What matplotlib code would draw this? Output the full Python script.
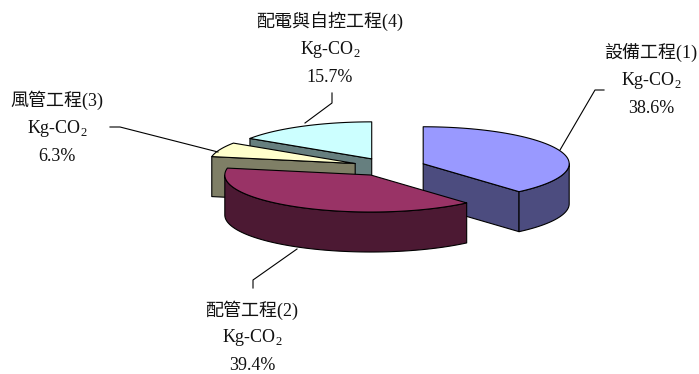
import numpy as np
import matplotlib

matplotlib.use("Agg")
import matplotlib.pyplot as plt
from matplotlib.patches import Polygon

plt.rcParams["font.family"] = ["Liberation Serif", "Noto Sans CJK TC"]

# carbon share per work item (Kg-CO2, percent of total)
categories = ["設備工程(1)", "配管工程(2)", "風管工程(3)", "配電與自控工程(4)"]
shares = [38.6, 39.4, 6.3, 15.7]
unit = "Kg-CO$_\\mathregular{2}$"

top_colors = ["#9999FF", "#993366", "#FFFFCC", "#CCFFFF"]
side_colors = ["#4C4C7F", "#4C1933", "#7F7F66", "#667F7F"]

# pie geometry in pixel space (y grows downward)
CX, CY = 389, 167
RX, RY = 146, 37
DEPTH = 40
EXPLODE = 0.25

# label anchor (x, first-line y) and leader polyline per slice
label_pos = [(651, 52), (252, 310), (57, 100), (330, 21)]
leaders = [
    [(560, 150), (595, 90), (604, 90)],
    [(297, 249), (253, 280), (253, 288)],
    [(110, 127), (120, 127), (218, 152)],
    [(305, 123), (332, 103), (332, 93)],
]
LINE_GAP = 28


def ellipse_pts(cx, cy, angles, dy=0.0):
    rad = np.radians(angles)
    return np.column_stack([cx + RX * np.cos(rad), cy - RY * np.sin(rad) + dy])


def draw_slice(ax, a, b, cx, cy, top, side):
    edge = dict(edgecolor="black", linewidth=0.8, joinstyle="round")
    apex = np.array([cx, cy])
    down = np.array([0, DEPTH])

    # radial walls that face the viewer
    for ang, visible in ((a, np.cos(np.radians(a)) > 1e-6), (b, np.cos(np.radians(b)) < -1e-6)):
        if not visible:
            continue
        rim = ellipse_pts(cx, cy, [ang])[0]
        ax.add_patch(Polygon([apex, rim, rim + down, apex + down], closed=True,
                             facecolor=side, **edge))

    # front part of the outer wall (sin < 0)
    lo, hi = a, b
    for k in range(-1, 2):
        f_lo, f_hi = max(lo, 180 + 360 * k), min(hi, 360 + 360 * k)
        if f_hi - f_lo > 0.01:
            angs = np.linspace(f_lo, f_hi, 80)
            upper = ellipse_pts(cx, cy, angs)
            lower = ellipse_pts(cx, cy, angs[::-1], DEPTH)
            ax.add_patch(Polygon(np.vstack([upper, lower]), closed=True,
                                 facecolor=side, **edge))

    angs = np.linspace(a, b, 160)
    face = np.vstack([apex, ellipse_pts(cx, cy, angs)])
    ax.add_patch(Polygon(face, closed=True, facecolor=top, **edge))


fig = plt.figure(figsize=(6.99, 3.74), dpi=100)
ax = fig.add_axes([0, 0, 1, 1])
ax.set_xlim(0, 699)
ax.set_ylim(374, 0)
ax.axis("off")

slices = []
start = 90.0
for i, share in enumerate(shares):
    b = start
    a = start - share * 3.6
    start = a
    mid = np.radians((a + b) / 2)
    cx = CX + EXPLODE * RX * np.cos(mid)
    cy = CY - EXPLODE * RY * np.sin(mid)
    slices.append((cy, i, a, b, cx))

# back to front
for cy, i, a, b, cx in sorted(slices):
    draw_slice(ax, a, b, cx, cy, top_colors[i], side_colors[i])

for i, name in enumerate(categories):
    x, y = label_pos[i]
    for j, line in enumerate([name, unit, f"{shares[i]:.1f}%"]):
        ax.text(x, y + j * LINE_GAP, line, ha="center", va="center",
                fontsize=13, color="#111111", zorder=10)
    xs, ys = zip(*leaders[i])
    ax.plot(xs, ys, color="black", linewidth=0.8, zorder=9)

fig.savefig("out.png", dpi=100)
